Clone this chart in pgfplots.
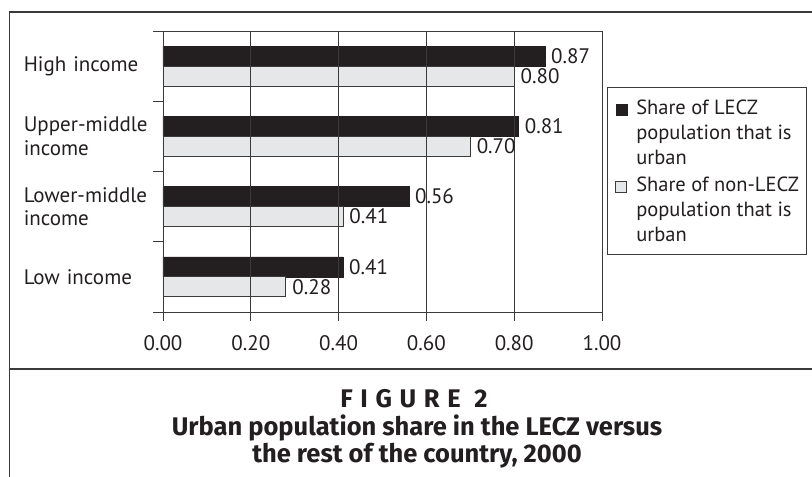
\documentclass[border=0pt]{standalone}
\usepackage{fontspec}
\setmainfont{PT Sans}
\newfontfamily\capfont{Fira Sans}
\usepackage{pgfplots}
\pgfplotsset{compat=1.18}
\definecolor{barblack}{HTML}{231F20}
\definecolor{bargray}{HTML}{E6E7E8}
\definecolor{txt}{HTML}{231F20}
\definecolor{linec}{HTML}{3A3A3A}
\begin{document}
\begin{tikzpicture}[x=1pt,y=1pt]
\useasboundingbox (0,0) rectangle (812,477);
\fill[white] (0,0) rectangle (812,477);
\begin{axis}[
  at={(163pt,165pt)}, anchor=south west,
  scale only axis, width=439pt, height=281pt,
  xbar, bar width=20pt,
  xmin=0, xmax=1, ymin=-0.5, ymax=3.5,
  xtick={0,0.2,0.4,0.6,0.8,1},
  xticklabels={0.00,0.20,0.40,0.60,0.80,1.00},
  ytick={0,1,2,3},
  yticklabels={{Low income},{Lower-middle\\income},{Upper-middle\\income},{High income}},
  minor ytick={-0.5,0.5,1.5,2.5,3.5},
  tick align=outside, xtick pos=bottom, ytick pos=left,
  major tick length=9pt, minor tick length=10pt,
  major y tick style={draw=none},
  tick style={linec, line width=0.9pt},
  axis line style={linec, line width=0.9pt},
  xmajorgrids, grid style={linec, line width=0.9pt},
  axis on top,
  /pgf/number format/assume math mode=true,
  tick label style={font=\fontsize{21}{23.5}\selectfont, text=txt},
  yticklabel style={text width=125pt, align=left, inner sep=0pt, anchor=east, xshift=-5pt},
  xticklabel style={inner sep=0pt, anchor=base, yshift=-30pt},
  point meta=x,
  nodes near coords={\pgfmathprintnumber[fixed,fixed zerofill,precision=2]{\pgfplotspointmeta}},
  nodes near coords style={font=\fontsize{21}{23}\selectfont, text=txt, inner sep=0pt, anchor=west, xshift=6pt},
  legend cell align=left,
  legend style={at={(1.0114,0.8007)}, anchor=north west, draw=linec, line width=0.9pt,
    font=\fontsize{20.5}{25}\selectfont, text=txt, cells={align=left},
    inner xsep=8pt, inner ysep=12pt, nodes={inner sep=0pt}, column sep=9pt, row sep=11pt},
]
\addplot[fill=barblack, draw=barblack, line width=0.5pt, bar shift=10pt,
  legend image code/.code={\fill[barblack] (0pt,17.5pt) rectangle (11pt,28.5pt);}]
  coordinates {(0.41,0) (0.56,1) (0.81,2) (0.87,3)};
\addlegendentry{Share of LECZ\\population that is\\urban}
\addplot[fill=bargray, draw=linec, line width=0.9pt, bar shift=-10pt,
  legend image code/.code={\filldraw[fill=bargray, draw=linec, line width=0.8pt] (0pt,17.5pt) rectangle (11pt,28.5pt);}]
  coordinates {(0.28,0) (0.41,1) (0.70,2) (0.80,3)};
\addlegendentry{Share of non-LECZ\\population that is\\urban}
\end{axis}
\draw[linec, line width=1.2pt] (9.5,0) -- (9.5,465) -- (812,465);
\draw[linec, line width=1.2pt] (9.5,108) -- (812,108);
\node[anchor=base, inner sep=0pt, text=txt, font=\capfont\bfseries\fontsize{25.5}{30}\selectfont] at (414,69) {\addfontfeature{LetterSpace=30}FIGURE 2};
\node[anchor=base, inner sep=0pt, text=txt, font=\capfont\bfseries\fontsize{25.5}{30}\selectfont] at (417,41) {Urban population share in the LECZ versus};
\node[anchor=base, inner sep=0pt, text=txt, font=\capfont\bfseries\fontsize{25.5}{30}\selectfont] at (417,14) {the rest of the country, 2000};
\end{tikzpicture}
\end{document}
